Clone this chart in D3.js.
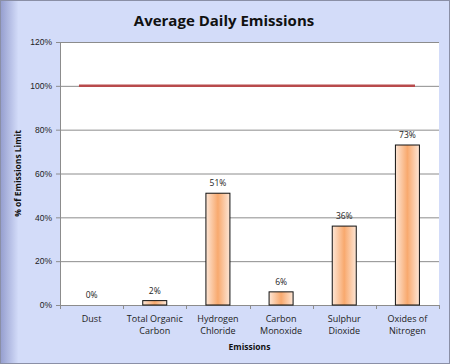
<!DOCTYPE html>
<html>
<head>
<meta charset="utf-8">
<script src="https://cdn.jsdelivr.net/npm/d3@7"></script>
<style>
	body { margin: 0; }
	svg { display: block; font-family: "Open Sans", "Noto Sans", sans-serif; }
</style>
</head>
<body>
<svg id="chart"></svg>
<script>
const categories = [
	["Dust"],
	["Total Organic", "Carbon"],
	["Hydrogen", "Chloride"],
	["Carbon", "Monoxide"],
	["Sulphur", "Dioxide"],
	["Oxides of", "Nitrogen"]
];
const values = [0, 2, 51, 6, 36, 73];
const limitValue = 100;
const yTicks = [0, 20, 40, 60, 80, 100, 120];

const width = 450;
const height = 364;
const margin = { top: 42, right: 11, bottom: 59, left: 60 };

const svg = d3.select("#chart")
	.attr("width", width)
	.attr("height", height);

const defs = svg.append("defs");

const bgGrad = defs.append("linearGradient")
	.attr("id", "bg-grad")
	.attr("x1", "0").attr("x2", "1").attr("y1", "0").attr("y2", "0");
bgGrad.append("stop").attr("offset", "0").attr("stop-color", "#959ecf");
bgGrad.append("stop").attr("offset", "0.04").attr("stop-color", "#d3dcf9");
bgGrad.append("stop").attr("offset", "1").attr("stop-color", "#d3dcf9");

const barGrad = defs.append("linearGradient")
	.attr("id", "bar-grad")
	.attr("x1", "0").attr("x2", "1").attr("y1", "0").attr("y2", "0");
barGrad.append("stop").attr("offset", "0").attr("stop-color", "#fde6d6");
barGrad.append("stop").attr("offset", "0.5").attr("stop-color", "#f8a96e");
barGrad.append("stop").attr("offset", "1").attr("stop-color", "#fde6d6");

svg.append("rect")
	.attr("x", 0.5).attr("y", 0.5)
	.attr("width", width - 1).attr("height", height - 1)
	.attr("fill", "url(#bg-grad)")
	.attr("stroke", "#8a8fa6");

const plotW = width - margin.left - margin.right;
const plotH = height - margin.top - margin.bottom;

const g = svg.append("g")
	.attr("transform", `translate(${margin.left}, ${margin.top})`);

const x = d3.scaleBand()
	.domain(d3.range(categories.length))
	.range([0, plotW]);

const y = d3.scaleLinear()
	.domain([0, 120])
	.range([plotH, 0]);

g.append("rect")
	.attr("width", plotW)
	.attr("height", plotH)
	.attr("fill", "#ffffff");

// gridlines
g.selectAll("line.grid")
	.data(yTicks.filter((d) => d > 0))
	.enter()
	.append("line")
	.attr("class", "grid")
	.attr("x1", 0).attr("x2", plotW)
	.attr("y1", (d) => y(d) + 0.5).attr("y2", (d) => y(d) + 0.5)
	.attr("stroke", "#8c8c8c")
	.attr("stroke-width", 1);

// y axis
const yAxis = g.append("g")
	.call(d3.axisLeft(y).tickValues(yTicks).tickFormat((d) => d + "%").tickSize(4).tickSizeOuter(0));
yAxis.select(".domain").attr("stroke", "#8c8c8c");
yAxis.selectAll(".tick line").attr("stroke", "#8c8c8c");
yAxis.selectAll(".tick text")
	.attr("font-size", 8.5)
	.attr("fill", "#222")
	.attr("x", -8);

// x axis
const xAxis = g.append("g")
	.attr("transform", `translate(0, ${plotH})`)
	.call(d3.axisBottom(x).tickSize(0).tickFormat(""));
xAxis.select(".domain").attr("stroke", "#8c8c8c");

g.selectAll("line.xtick")
	.data(d3.range(categories.length + 1))
	.enter()
	.append("line")
	.attr("class", "xtick")
	.attr("x1", (d) => Math.round(d * x.step()) + 0.5)
	.attr("x2", (d) => Math.round(d * x.step()) + 0.5)
	.attr("y1", plotH).attr("y2", plotH + 4)
	.attr("stroke", "#8c8c8c");

const catLabels = g.selectAll("text.cat")
	.data(categories)
	.enter()
	.append("text")
	.attr("class", "cat")
	.attr("text-anchor", "middle")
	.attr("font-size", 9)
	.attr("fill", "#222")
	.attr("transform", (d, i) => `translate(${x(i) + x.bandwidth() / 2}, ${plotH + 17})`);
catLabels.selectAll("tspan")
	.data((d) => d)
	.enter()
	.append("tspan")
	.attr("x", 0)
	.attr("dy", (d, i) => (i === 0 ? 0 : 12))
	.text((d) => d);

// bars
const barW = x.bandwidth() * 0.38;
g.selectAll("rect.bar")
	.data(values)
	.enter()
	.append("rect")
	.attr("class", "bar")
	.attr("x", (d, i) => x(i) + (x.bandwidth() - barW) / 2)
	.attr("y", (d) => y(d))
	.attr("width", barW)
	.attr("height", (d) => plotH - y(d))
	.attr("fill", "url(#bar-grad)")
	.attr("stroke", (d) => (d > 0 ? "#111" : "none"))
	.attr("stroke-width", 1);

g.selectAll("text.val")
	.data(values)
	.enter()
	.append("text")
	.attr("class", "val")
	.attr("text-anchor", "middle")
	.attr("font-size", 8.5)
	.attr("fill", "#222")
	.attr("x", (d, i) => x(i) + x.bandwidth() / 2)
	.attr("y", (d) => y(d) - 7)
	.text((d) => d + "%");

// limit line
g.append("line")
	.attr("x1", x(0) + x.bandwidth() * 0.3)
	.attr("x2", x(categories.length - 1) + x.bandwidth() * 0.62)
	.attr("y1", y(limitValue))
	.attr("y2", y(limitValue))
	.attr("stroke", "#b84a4c")
	.attr("stroke-width", 2.5);

// title and axis titles
svg.append("text")
	.attr("x", 224)
	.attr("y", 26)
	.attr("text-anchor", "middle")
	.attr("font-size", 15)
	.attr("font-weight", "bold")
	.attr("fill", "#111")
	.text("Average Daily Emissions");

svg.append("text")
	.attr("x", margin.left + plotW / 2)
	.attr("y", 350)
	.attr("text-anchor", "middle")
	.attr("font-size", 8.5)
	.attr("font-weight", "bold")
	.attr("fill", "#111")
	.text("Emissions");

svg.append("text")
	.attr("transform", `translate(21, ${margin.top + plotH / 2}) rotate(-90)`)
	.attr("text-anchor", "middle")
	.attr("font-size", 8.5)
	.attr("font-weight", "bold")
	.attr("fill", "#111")
	.text("% of Emissions  Limit");
</script>
</body>
</html>
